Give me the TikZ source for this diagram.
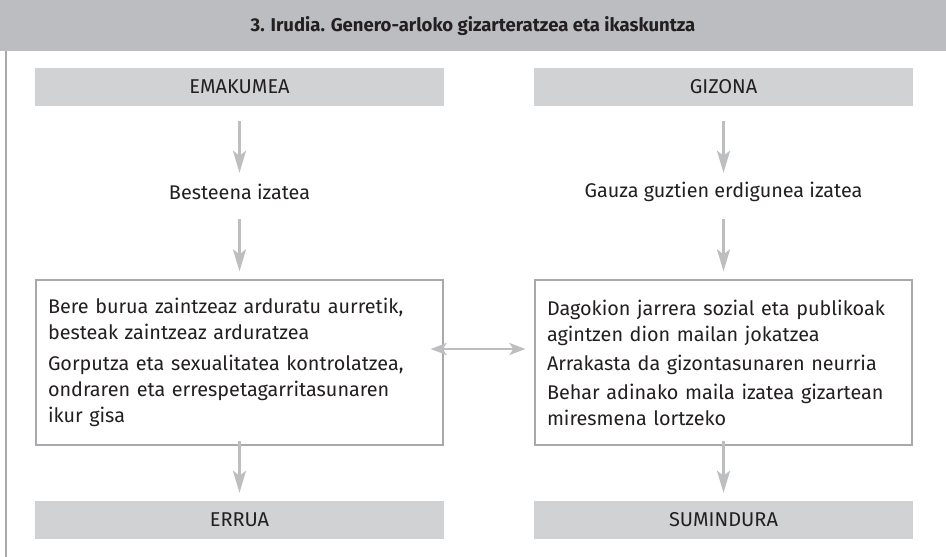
\documentclass[tikz,border=0pt]{standalone}
\usepackage{fontspec}
\setmainfont{Fira Sans}
\usetikzlibrary{arrows.meta}
\definecolor{titlegray}{HTML}{BCBDC0}
\definecolor{boxgray}{HTML}{D1D2D4}
\definecolor{arrgray}{HTML}{BCBEC0}
\definecolor{edgegray}{HTML}{A7A9AC}
\definecolor{ink}{HTML}{231F20}
\newcommand{\nohyph}{\hyphenpenalty=10000\relax}
\tikzset{
  headbox/.style={fill=boxgray, minimum height=38pt, inner sep=0pt, font=\fontsize{20}{24}\selectfont, text=ink},
  midtext/.style={minimum height=38pt, inner sep=0pt, font=\fontsize{19.8}{24}\selectfont, text=ink},
  listbox/.style={draw=edgegray, line width=1.2pt, minimum height=165pt, inner sep=12pt, align=left, font=\fontsize{19.8}{26}\selectfont\nohyph, text=ink},
  downarr/.style={draw=arrgray, line width=2.7pt, -{Stealth[length=22pt,width=13pt,inset=5pt]}},
  sidearr/.style={draw=arrgray, line width=2.7pt, {Stealth[length=16pt,width=12pt,inset=4pt]}-{Stealth[length=16pt,width=12pt,inset=4pt]}}
}
\begin{document}
\begin{tikzpicture}[x=1pt,y=-1pt]
\useasboundingbox (0,0) rectangle (946,557);
\fill[white] (0,0) rectangle (946,557);
\fill[titlegray] (0,0) rectangle (946,51);
\draw[edgegray, line width=2pt] (6,51) -- (6,557);
\node[font=\fontsize{18.5}{22}\selectfont\bfseries, text=ink] (title) at (473,26) {3. Irudia. Genero-arloko gizarteratzea eta ikaskuntza};

\node[headbox, minimum width=409pt] (emak) at (239.5,87) {EMAKUMEA};
\node[headbox, minimum width=379pt] (gizo) at (723.5,87) {GIZONA};

\node[midtext] (best) at (239.5,192) {Besteena izatea};
\node[midtext] (gauza) at (723.5,192) {Gauza guztien erdigunea izatea};

\node[listbox, text width=383pt] (lbox) at (239.5,362.5) {Bere burua zaintzeaz arduratu aurretik,\\ besteak zaintzeaz arduratzea\\[5pt] Gorputza eta sexualitatea kontrolatzea,\\ ondraren eta errespetagarritasunaren\\ ikur gisa};
\node[listbox, text width=353pt] (rbox) at (723.5,362.5) {Dagokion jarrera sozial eta publikoak\\ agintzen dion mailan jokatzea\\[3pt] Arrakasta da gizontasunaren neurria\\[3pt] Behar adinako maila izatea gizartean\\ miresmena lortzeko};

\node[headbox, minimum width=409pt] (errua) at (239.5,520) {ERRUA};
\node[headbox, minimum width=379pt] (sumin) at (723.5,520) {SUMINDURA};

\draw[downarr, shorten <=15pt] (emak.south) -- (best.north);
\draw[downarr, shorten <=15pt] (gizo.south) -- (gauza.north);
\draw[downarr, shorten <=8pt, shorten >=8pt] (best.south) -- (lbox.north);
\draw[downarr, shorten <=8pt, shorten >=8pt] (gauza.south) -- (rbox.north);
\draw[downarr, shorten <=-5pt, shorten >=8pt] (lbox.south) -- (errua.north);
\draw[downarr, shorten <=-5pt, shorten >=8pt] (rbox.south) -- (sumin.north);
\draw[sidearr, shorten <=-13pt, shorten >=9pt] ([yshift=13.5pt]lbox.east) -- ([yshift=13.5pt]rbox.west);
\end{tikzpicture}
\end{document}
